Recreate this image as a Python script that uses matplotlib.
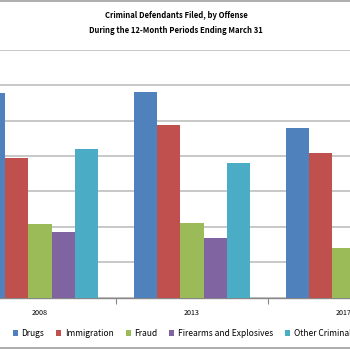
import numpy as np
import matplotlib
matplotlib.use("Agg")
import matplotlib.pyplot as plt
from matplotlib.lines import Line2D

# data (defendants filed)
years = ['2008', '2013', '2017']
offenses = ['Drugs', 'Immigration', 'Fraud', 'Firearms and Explosives', 'Other Criminal']
drugs = [28900, 29100, 24000]
immigration = [19750, 24400, 20500]
fraud = [10450, 10600, 7050]
firearms = [9200, 8400, 8000]
other = [21000, 19000, 17000]

colors = ['#4F81BD', '#C0504D', '#9BBB59', '#8064A2', '#4BACC6']
series = [drugs, immigration, fraud, firearms, other]

plt.rcParams['font.family'] = ['Noto Sans CJK JP', 'Lato', 'DejaVu Sans']

fig = plt.figure(figsize=(3.5, 3.5), dpi=100)
fig.set_facecolor('white')
renderer = fig.canvas.get_renderer()


def fit_size(text, target_px, weight='normal'):
    # pick a font size so the text is about target_px wide
    t = fig.text(0, 0, text, fontsize=10, fontweight=weight)
    w = t.get_window_extent(renderer).width
    t.remove()
    return 10 * target_px / w


title_size = fit_size('Criminal Defendants Filed, by Offense', 144, 'bold')
legend_size = fit_size('Firearms and Explosives', 95)
tick_size = fit_size('2008', 16)
px = legend_size * 100 / 72  # one em in pixels

ax = fig.add_axes([0, 0.15, 1, 0.707])

x = np.arange(len(years))
width = 0.153
for i, (vals, col) in enumerate(zip(series, colors)):
    ax.bar(x + (i - 2) * width, vals, width, color=col, label=offenses[i], zorder=3)

ax.set_ylim(0, 35000)
ax.set_yticks(np.arange(0, 35001, 5000))
ax.yaxis.grid(True, color='#BFBFBF', linewidth=1.2, zorder=0)
ax.set_xlim(-0.263, 2.039)

# category ticks sit between groups, labels at group centres
ax.set_xticks([0.5, 1.5])
ax.set_xticklabels([])
ax.set_xticks(x, minor=True)
ax.set_xticklabels(years, minor=True, fontsize=tick_size)
ax.tick_params(axis='x', which='major', length=4, color='#888888', direction='out')
ax.tick_params(axis='x', which='minor', length=0, pad=8)
ax.tick_params(axis='y', left=False, labelleft=False)
for s in ['left', 'right', 'top']:
    ax.spines[s].set_visible(False)
ax.spines['bottom'].set_color('#888888')
ax.spines['bottom'].set_linewidth(1.0)

fig.text(0.503, 0.955, 'Criminal Defendants Filed, by Offense', ha='center', va='center',
         fontsize=title_size, fontweight='bold')
fig.text(0.503, 0.914, 'During the 12-Month Periods Ending March 31', ha='center', va='center',
         fontsize=title_size, fontweight='bold')

ax.legend(loc='center left', bbox_to_anchor=(0.037, -0.145), ncol=5, frameon=False,
          fontsize=legend_size, handlelength=5 / px, handleheight=5 / px,
          handletextpad=3.5 / px, columnspacing=12 / px, borderaxespad=0, borderpad=0)

# chart area border lines at top and bottom
fig.add_artist(Line2D([0, 1], [0.998, 0.998], color='#A0A0A0', linewidth=1.2))
fig.add_artist(Line2D([0, 1], [0.006, 0.006], color='#A0A0A0', linewidth=1.2))

fig.savefig('out.png', dpi=100)
